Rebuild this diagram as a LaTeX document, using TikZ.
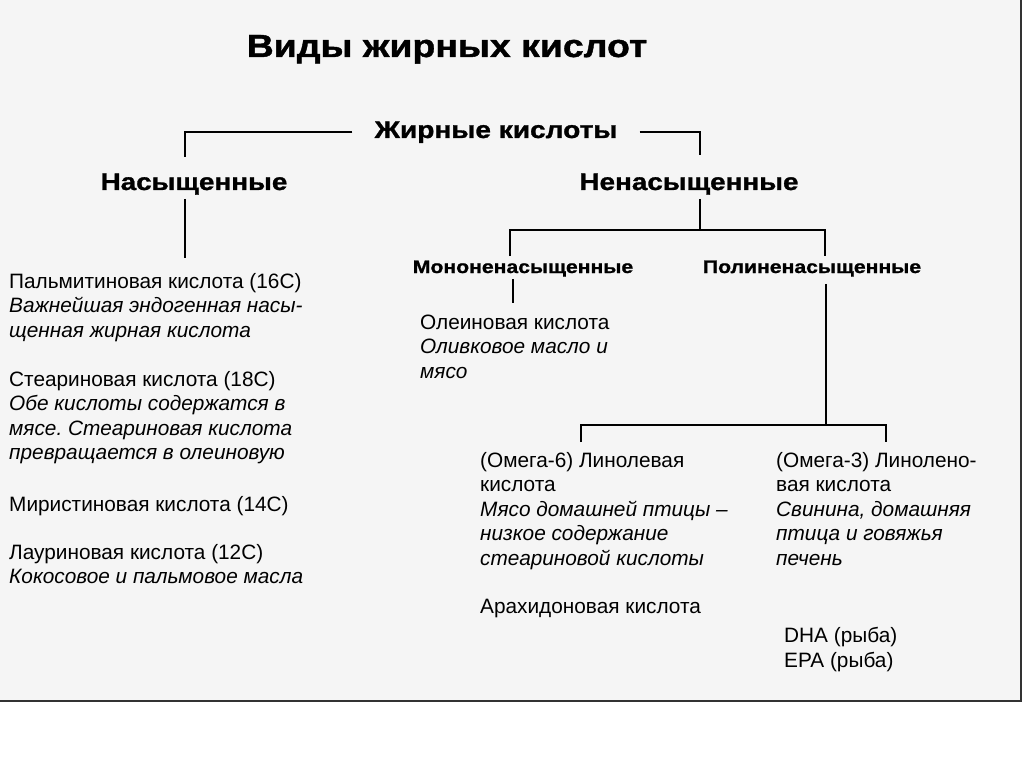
\documentclass[tikz,border=0pt]{standalone}
\usepackage{fontspec}
\setmainfont{Liberation Sans}
\newfontfamily\widefont[FakeStretch=1.17, BoldFeatures={FakeBold=1.2}]{Liberation Sans}
\usetikzlibrary{positioning}
\tikzstyle{branch}    = [line width=1.7pt, black]
\tikzstyle{heading}   = [inner sep=0pt, anchor=base, font=\widefont\bfseries\fontsize{32}{36}\selectfont]
\tikzstyle{group}     = [inner xsep=0pt, inner ysep=4pt, anchor=base, font=\widefont\bfseries\fontsize{23.8}{28}\selectfont]
\tikzstyle{subgroup}  = [inner xsep=0pt, inner ysep=2pt, anchor=base, font=\widefont\bfseries\fontsize{18.1}{22}\selectfont]
\tikzstyle{entry}     = [inner sep=0pt, anchor=base west, align=left, font=\fontsize{20.8}{24.5}\selectfont]

\begin{document}
\begin{tikzpicture}[x=1pt, y=-1pt]

    \useasboundingbox (0,0) rectangle (1024,767);
    \fill[black!4] (0,0) rectangle (1021,701);
    \draw[line width=2.5pt, black!80] (1021,0) -- (1021,701) -- (0,701);

    \node[heading] (title) at (447,57) {Виды жирных кислот};
    \node[heading, font=\widefont\bfseries\fontsize{24}{28}\selectfont, inner xsep=22pt] (fatty) at (496,138) {Жирные кислоты};

    \node[group] (sat)   at (194,190) {Насыщенные};
    \node[group] (unsat) at (689,190) {Ненасыщенные};
    \node[subgroup] (mono) at (523,273) {Мононенасыщенные};
    \node[subgroup, inner ysep=7pt] (poly) at (812,273) {Полиненасыщенные};

    % anchors sit on the baseline of the last line
    \node[entry] (palm)  at (9,337) {Пальмитиновая кислота (16C)\\ \textit{Важнейшая эндогенная насы-}\\ \textit{щенная жирная кислота}};
    \node[entry] (stear) at (9,459.5) {Стеариновая кислота (18C)\\ \textit{Обе кислоты содержатся в}\\ \textit{мясе.\ Стеариновая кислота}\\ \textit{превращается в олеиновую}};
    \node[entry] (myr)   at (9,511) {Миристиновая кислота (14C)};
    \node[entry] (laur)  at (9,583.5) {Лауриновая кислота (12C)\\ \textit{Кокосовое и пальмовое масла}};

    \node[entry] (olein)  at (420,378) {Олеиновая кислота\\ \textit{Оливковое масло и}\\ \textit{мясо}};
    \node[entry] (omegasix)   at (480,565) {(Омега-6) Линолевая\\ кислота\\ \textit{Мясо домашней птицы –}\\ \textit{низкое содержание}\\ \textit{стеариновой кислоты}};
    \node[entry] (arach)  at (480,613) {Арахидоновая кислота};
    \node[entry] (omegathree) at (776,565) {(Омега-3) Линолено-\\ вая кислота\\ \textit{Свинина, домашняя}\\ \textit{птица и говяжья}\\ \textit{печень}};
    \node[entry] (dha)    at (784,667) {DHA (рыба)\\ EPA (рыба)};

    \coordinate (satTop)        at (185,157);
    \coordinate (unsatTop)      at (700,155);
    \coordinate (palmTop)       at (185,258);
    \coordinate (unsatFork)     at (700,230);
    \coordinate (monoTop)       at (510,256);
    \coordinate (polyTop)       at (825,256);
    \coordinate (oleinTop)      at (513,303);
    \coordinate (polyFork)      at (826,425);
    \coordinate (omegasixTop)   at (581,442);
    \coordinate (omegathreeTop) at (886,442);

    \draw[branch] (fatty.west) -| (satTop);
    \draw[branch] (fatty.east) -| (unsatTop);
    \draw[branch] (sat.south -| palmTop) -- (palmTop);
    \draw[branch] (unsat.south -| unsatFork) -- (unsatFork);
    \draw[branch] (monoTop) |- (unsatFork) -| (polyTop);
    \draw[branch] (mono.south -| oleinTop) -- (oleinTop);
    \draw[branch] (poly.south -| polyFork) -- (polyFork);
    \draw[branch] (omegasixTop) |- (polyFork) -| (omegathreeTop);

\end{tikzpicture}
\end{document}
